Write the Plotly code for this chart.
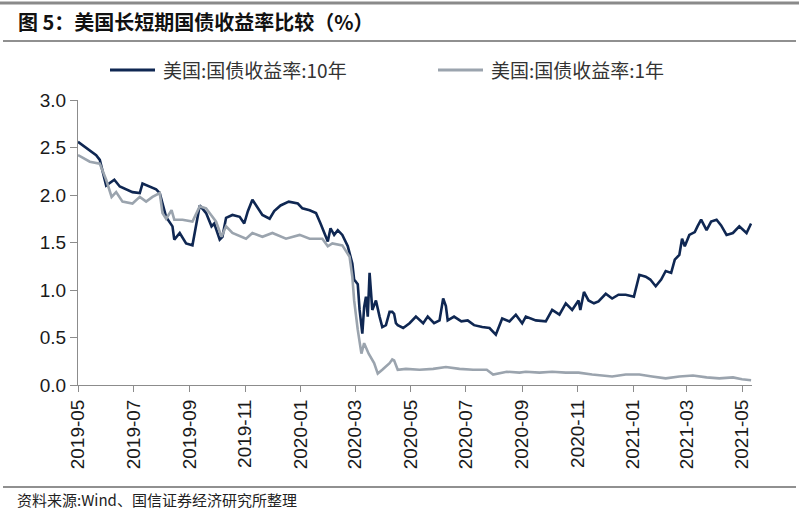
import plotly.graph_objects as go

# ---- data ----
dates_10y = [
    "2019-05-01", "2019-05-21", "2019-05-25", "2019-06-01", "2019-06-10", "2019-06-16", "2019-06-30",
    "2019-07-08", "2019-07-11", "2019-07-19", "2019-07-26", "2019-07-30", "2019-08-06", "2019-08-13",
    "2019-08-15", "2019-08-21", "2019-08-28", "2019-09-04", "2019-09-08", "2019-09-12", "2019-09-19",
    "2019-09-25", "2019-09-28", "2019-10-04", "2019-10-07", "2019-10-11", "2019-10-18", "2019-10-26",
    "2019-10-31", "2019-11-04", "2019-11-09", "2019-11-15", "2019-11-20", "2019-11-28", "2019-12-03",
    "2019-12-10", "2019-12-19", "2019-12-29", "2020-01-03", "2020-01-11", "2020-01-18", "2020-01-23",
    "2020-01-31", "2020-02-03", "2020-02-07", "2020-02-11", "2020-02-16", "2020-02-22", "2020-02-27",
    "2020-02-29", "2020-03-04", "2020-03-06", "2020-03-09", "2020-03-11", "2020-03-13", "2020-03-15",
    "2020-03-17", "2020-03-20", "2020-03-24", "2020-03-28", "2020-03-31", "2020-04-04", "2020-04-08",
    "2020-04-11", "2020-04-13", "2020-04-15", "2020-04-17", "2020-04-23", "2020-04-30", "2020-05-07",
    "2020-05-15", "2020-05-20", "2020-05-27", "2020-06-02", "2020-06-06", "2020-06-09", "2020-06-11",
    "2020-06-18", "2020-06-26", "2020-07-03", "2020-07-10", "2020-07-19", "2020-07-27", "2020-08-03",
    "2020-08-10", "2020-08-18", "2020-08-25", "2020-09-01", "2020-09-05", "2020-09-16", "2020-09-27",
    "2020-10-04", "2020-10-12", "2020-10-19", "2020-10-26", "2020-11-02", "2020-11-04", "2020-11-08",
    "2020-11-13", "2020-11-19", "2020-11-24", "2020-12-02", "2020-12-09", "2020-12-16", "2020-12-24",
    "2021-01-02", "2021-01-08", "2021-01-15", "2021-01-20", "2021-01-26", "2021-02-01", "2021-02-06",
    "2021-02-12", "2021-02-16", "2021-02-21", "2021-02-24", "2021-02-27", "2021-03-04", "2021-03-10",
    "2021-03-13", "2021-03-17", "2021-03-23", "2021-03-28", "2021-04-03", "2021-04-08", "2021-04-14",
    "2021-04-21", "2021-04-28", "2021-05-06", "2021-05-11",
]
yield_10y = [
    2.56, 2.42, 2.37, 2.10, 2.16, 2.09, 2.03,
    2.02, 2.12, 2.09, 2.06, 2.02, 1.77, 1.67,
    1.53, 1.60, 1.49, 1.47, 1.70, 1.89, 1.81,
    1.67, 1.70, 1.53, 1.56, 1.76, 1.79, 1.77,
    1.70, 1.83, 1.95, 1.86, 1.79, 1.75, 1.83,
    1.89, 1.93, 1.91, 1.86, 1.84, 1.81, 1.70,
    1.51, 1.65, 1.58, 1.63, 1.58, 1.46, 1.28,
    1.11, 1.06, 0.79, 0.54, 0.82, 0.93, 0.72,
    1.18, 0.79, 0.89, 0.72, 0.61, 0.63, 0.77,
    0.77, 0.75, 0.65, 0.63, 0.60, 0.65, 0.72,
    0.65, 0.72, 0.65, 0.68, 0.91, 0.83, 0.68,
    0.72, 0.67, 0.68, 0.63, 0.61, 0.60, 0.53,
    0.70, 0.67, 0.74, 0.65, 0.72, 0.68, 0.67,
    0.79, 0.74, 0.86, 0.79, 0.89, 0.79, 0.98,
    0.89, 0.86, 0.88, 0.96, 0.91, 0.95, 0.95,
    0.93, 1.16, 1.14, 1.11, 1.04, 1.11, 1.20,
    1.18, 1.32, 1.37, 1.54, 1.46, 1.58, 1.61,
    1.67, 1.74, 1.63, 1.72, 1.74, 1.68, 1.58,
    1.60, 1.67, 1.60, 1.70,
]

dates_1y = [
    "2019-05-01", "2019-05-14", "2019-05-25", "2019-06-01", "2019-06-07", "2019-06-12", "2019-06-19",
    "2019-06-30", "2019-07-08", "2019-07-15", "2019-07-22", "2019-07-30", "2019-08-02", "2019-08-06",
    "2019-08-12", "2019-08-15", "2019-08-24", "2019-09-04", "2019-09-12", "2019-09-19", "2019-09-30",
    "2019-10-06", "2019-10-11", "2019-10-18", "2019-11-02", "2019-11-09", "2019-11-20", "2019-12-01",
    "2019-12-16", "2019-12-31", "2020-01-11", "2020-01-25", "2020-01-31", "2020-02-05", "2020-02-16",
    "2020-02-24", "2020-02-27", "2020-02-29", "2020-03-04", "2020-03-08", "2020-03-11", "2020-03-16",
    "2020-03-22", "2020-03-26", "2020-03-31", "2020-04-04", "2020-04-08", "2020-04-11", "2020-04-13",
    "2020-04-17", "2020-04-26", "2020-05-11", "2020-05-26", "2020-06-09", "2020-06-24", "2020-07-09",
    "2020-07-24", "2020-07-31", "2020-08-15", "2020-08-29", "2020-09-05", "2020-09-20", "2020-10-04",
    "2020-10-19", "2020-11-02", "2020-11-17", "2020-12-09", "2020-12-24", "2021-01-08", "2021-01-22",
    "2021-02-06", "2021-02-21", "2021-03-08", "2021-03-23", "2021-04-06", "2021-04-21", "2021-05-01",
    "2021-05-11",
]
yield_1y = [
    2.42, 2.35, 2.33, 2.16, 1.98, 2.03, 1.93,
    1.91, 1.98, 1.93, 1.98, 2.02, 1.81, 1.75,
    1.84, 1.74, 1.74, 1.72, 1.88, 1.86, 1.72,
    1.56, 1.67, 1.60, 1.54, 1.60, 1.56, 1.60,
    1.54, 1.58, 1.54, 1.54, 1.46, 1.49, 1.47,
    1.35, 1.14, 0.89, 0.58, 0.33, 0.44, 0.33,
    0.23, 0.12, 0.16, 0.19, 0.23, 0.27, 0.26,
    0.16, 0.17, 0.16, 0.17, 0.19, 0.17, 0.16,
    0.16, 0.11, 0.14, 0.13, 0.14, 0.13, 0.14,
    0.13, 0.13, 0.11, 0.09, 0.11, 0.11, 0.09,
    0.07, 0.09, 0.10, 0.08, 0.07, 0.08, 0.06,
    0.05,
]

tick_vals = ["2019-05-01", "2019-07-01", "2019-09-01", "2019-11-01", "2020-01-01", "2020-03-01",
             "2020-05-01", "2020-07-01", "2020-09-01", "2020-11-01", "2021-01-01", "2021-03-01",
             "2021-05-01"]
tick_text = ["2019-05", "2019-07", "2019-09", "2019-11", "2020-01", "2020-03", "2020-05",
             "2020-07", "2020-09", "2020-11", "2021-01", "2021-03", "2021-05"]

name_10y = "美国:国债收益率:10年"
name_1y = "美国:国债收益率:1年"
title_text = "图 5：美国长短期国债收益率比较（%）"
source_text = "资料来源:Wind、国信证券经济研究所整理"

COLOR_10Y = "#0f2752"
COLOR_1Y = "#9ba4ae"

# ---- layout geometry ----
W, H = 799, 524
L, R, T, B = 78, 752, 100, 385
FONT = "Liberation Sans, Arial, Noto Sans CJK SC, sans-serif"
CJK = "Noto Sans CJK SC, sans-serif"


def px(x):
    return (x - L) / (R - L)


def py(y):
    return (B - y) / (B - T)


fig = go.Figure()
fig.add_trace(go.Scatter(x=dates_10y, y=yield_10y, mode="lines", name=name_10y,
                         line=dict(color=COLOR_10Y, width=2.6)))
fig.add_trace(go.Scatter(x=dates_1y, y=yield_1y, mode="lines", name=name_1y,
                         line=dict(color=COLOR_1Y, width=2.6)))

shapes = [
    dict(type="line", xref="paper", yref="paper", x0=px(0), x1=px(W), y0=py(3), y1=py(3),
         line=dict(color="#8a8a8a", width=3)),
    dict(type="line", xref="paper", yref="paper", x0=px(3), x1=px(796), y0=py(41), y1=py(41),
         line=dict(color="#222222", width=1.2)),
    dict(type="line", xref="paper", yref="paper", x0=px(3), x1=px(796), y0=py(487), y1=py(487),
         line=dict(color="#222222", width=1.2)),
    # legend samples
    dict(type="line", xref="paper", yref="paper", x0=px(110), x1=px(155), y0=py(70), y1=py(70),
         line=dict(color=COLOR_10Y, width=3)),
    dict(type="line", xref="paper", yref="paper", x0=px(438), x1=px(483), y0=py(70), y1=py(70),
         line=dict(color=COLOR_1Y, width=3)),
]

annotations = [
    dict(text="<b>" + title_text + "</b>", xref="paper", yref="paper", x=px(16), y=py(21),
         xanchor="left", yanchor="middle", showarrow=False,
         font=dict(family=CJK, size=20, color="#111111")),
    dict(text=name_10y, xref="paper", yref="paper", x=px(161), y=py(70),
         xanchor="left", yanchor="middle", showarrow=False,
         font=dict(family=CJK, size=19, color="#333333")),
    dict(text=name_1y, xref="paper", yref="paper", x=px(489), y=py(70),
         xanchor="left", yanchor="middle", showarrow=False,
         font=dict(family=CJK, size=19, color="#333333")),
    dict(text=source_text, xref="paper", yref="paper", x=px(15), y=py(499),
         xanchor="left", yanchor="middle", showarrow=False,
         font=dict(family=CJK, size=15, color="#222222")),
]

fig.update_layout(
    width=W, height=H,
    margin=dict(l=L, r=W - R, t=T, b=H - B, pad=0),
    paper_bgcolor="white", plot_bgcolor="white",
    font=dict(family=FONT, size=18, color="#1a1a1a"),
    showlegend=False,
    xaxis=dict(type="date", range=["2019-05-01", "2021-05-12"],
               tickvals=tick_vals, ticktext=tick_text, tickangle=-90,
               showgrid=False, zeroline=False, showline=True, linecolor="#8c8c8c", linewidth=1,
               ticks="outside", ticklen=6, tickcolor="#8c8c8c",
               tickfont=dict(family=FONT, size=19, color="#1a1a1a")),
    yaxis=dict(range=[0, 3], tickvals=[0, 0.5, 1.0, 1.5, 2.0, 2.5, 3.0], tickformat=".1f",
               showgrid=False, zeroline=False, showline=True, linecolor="#8c8c8c", linewidth=1,
               ticks="outside", ticklen=7, tickcolor="#8c8c8c",
               tickfont=dict(family=FONT, size=19, color="#1a1a1a")),
    shapes=shapes,
    annotations=annotations,
)

fig.write_html(
    "out.html",
    config={"displayModeBar": False},
    post_script="document.body.style.margin='0';document.body.style.padding='0';"
                "document.documentElement.style.overflow='hidden';",
)
